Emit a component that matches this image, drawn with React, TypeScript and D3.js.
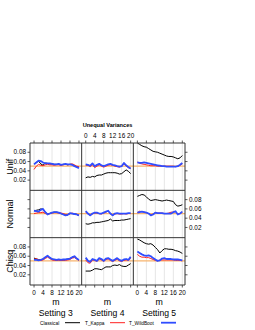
import React from "react";
import * as d3 from "d3";

const mValues = [0,1,2,3,4,5,6,7,8,9,10,11,12,13,14,15,16,17,18,19,20];
const rowNames = ["Unif", "Normal", "Chisq"];
const colNames = ["Setting 3", "Setting 4", "Setting 5"];
const seriesNames = ["Classical", "T_Kappa", "T_WildBoot"];
const xTicks = [0, 4, 8, 12, 16, 20];
const yTicks = [0.02, 0.04, 0.06, 0.08];
const yTickLabels = ["0.02", "0.04", "0.06", "0.08"];
const nominal = 0.05;

// Unif
const unifS3Classical = [0.055,0.058,0.061,0.055,0.052,0.057,0.056,0.055,0.055,0.054,0.054,0.054,0.053,0.054,0.054,0.053,0.054,0.054,0.051,0.049,0.047];
const unifS3Kappa = [0.043,0.050,0.054,0.052,0.051,0.053,0.054,0.053,0.053,0.052,0.053,0.053,0.052,0.053,0.054,0.053,0.054,0.055,0.053,0.050,0.049];
const unifS3Wild = [0.054,0.058,0.062,0.061,0.058,0.056,0.056,0.056,0.055,0.054,0.054,0.055,0.053,0.054,0.055,0.054,0.054,0.053,0.050,0.048,0.046];
const unifS4Classical = [0.025,0.027,0.026,0.028,0.027,0.030,0.031,0.031,0.033,0.035,0.036,0.036,0.036,0.036,0.035,0.033,0.034,0.038,0.042,0.039,0.034];
const unifS4Kappa = [0.052,0.052,0.049,0.053,0.047,0.050,0.053,0.050,0.048,0.050,0.052,0.053,0.052,0.050,0.049,0.048,0.050,0.055,0.050,0.047,0.045];
const unifS4Wild = [0.054,0.053,0.051,0.056,0.050,0.053,0.055,0.052,0.050,0.052,0.054,0.055,0.053,0.052,0.050,0.049,0.050,0.057,0.052,0.048,0.045];
const unifS5Classical = [0.100,0.097,0.094,0.092,0.091,0.088,0.085,0.082,0.081,0.080,0.078,0.076,0.074,0.072,0.071,0.071,0.070,0.068,0.066,0.068,0.073];
const unifS5Kappa = [0.059,0.056,0.055,0.054,0.053,0.052,0.051,0.051,0.051,0.050,0.050,0.050,0.050,0.050,0.050,0.050,0.050,0.049,0.050,0.052,0.055];
const unifS5Wild = [0.058,0.057,0.057,0.058,0.057,0.056,0.055,0.054,0.053,0.052,0.051,0.050,0.050,0.049,0.049,0.049,0.049,0.049,0.050,0.053,0.057];

// Normal
const normS3Classical = [0.056,0.057,0.058,0.060,0.059,0.053,0.049,0.050,0.052,0.053,0.053,0.052,0.050,0.048,0.047,0.047,0.050,0.050,0.049,0.048,0.046];
const normS3Kappa = [0.050,0.051,0.052,0.052,0.053,0.050,0.049,0.050,0.051,0.052,0.052,0.051,0.051,0.050,0.048,0.048,0.050,0.051,0.049,0.048,0.046];
const normS3Wild = [0.056,0.055,0.054,0.058,0.060,0.053,0.048,0.050,0.052,0.053,0.053,0.052,0.050,0.048,0.046,0.047,0.051,0.050,0.049,0.048,0.046];
const normS4Classical = [0.028,0.027,0.028,0.030,0.030,0.031,0.031,0.032,0.033,0.034,0.035,0.038,0.034,0.035,0.035,0.035,0.036,0.036,0.037,0.038,0.039];
const normS4Kappa = [0.053,0.049,0.046,0.049,0.051,0.051,0.050,0.049,0.051,0.053,0.055,0.049,0.046,0.049,0.050,0.049,0.049,0.050,0.049,0.050,0.050];
const normS4Wild = [0.055,0.050,0.046,0.050,0.052,0.052,0.050,0.050,0.052,0.054,0.056,0.050,0.046,0.050,0.051,0.050,0.050,0.050,0.050,0.051,0.051];
const normS5Classical = [0.087,0.089,0.091,0.090,0.086,0.081,0.078,0.079,0.080,0.079,0.078,0.077,0.078,0.079,0.078,0.077,0.076,0.069,0.066,0.067,0.069];
const normS5Kappa = [0.052,0.055,0.054,0.053,0.052,0.050,0.047,0.049,0.052,0.051,0.051,0.051,0.050,0.050,0.051,0.053,0.053,0.054,0.049,0.050,0.053];
const normS5Wild = [0.052,0.053,0.054,0.053,0.052,0.050,0.046,0.048,0.052,0.051,0.051,0.051,0.050,0.050,0.050,0.050,0.053,0.055,0.048,0.050,0.054];

// Chisq
const chisqS3Classical = [0.056,0.054,0.053,0.052,0.054,0.057,0.060,0.057,0.054,0.053,0.052,0.053,0.052,0.052,0.053,0.054,0.055,0.057,0.059,0.055,0.052];
const chisqS3Kappa = [0.053,0.055,0.052,0.051,0.052,0.055,0.058,0.055,0.052,0.051,0.051,0.051,0.051,0.051,0.051,0.052,0.053,0.056,0.057,0.054,0.051];
const chisqS3Wild = [0.052,0.052,0.051,0.052,0.054,0.058,0.061,0.057,0.054,0.053,0.052,0.053,0.052,0.053,0.053,0.054,0.055,0.058,0.060,0.055,0.052];
const chisqS4Classical = [0.028,0.028,0.028,0.030,0.033,0.033,0.032,0.031,0.034,0.037,0.037,0.037,0.040,0.041,0.040,0.042,0.039,0.038,0.038,0.041,0.044];
const chisqS4Kappa = [0.052,0.046,0.045,0.052,0.051,0.049,0.054,0.052,0.049,0.053,0.054,0.051,0.049,0.051,0.054,0.050,0.049,0.051,0.052,0.051,0.056];
const chisqS4Wild = [0.057,0.050,0.048,0.054,0.052,0.050,0.056,0.054,0.050,0.055,0.056,0.053,0.050,0.053,0.056,0.052,0.050,0.053,0.054,0.052,0.059];
const chisqS5Classical = [0.097,0.095,0.092,0.089,0.087,0.086,0.087,0.084,0.079,0.074,0.067,0.072,0.076,0.076,0.075,0.075,0.074,0.072,0.071,0.069,0.066];
const chisqS5Kappa = [0.064,0.060,0.058,0.058,0.057,0.057,0.055,0.053,0.051,0.050,0.052,0.052,0.052,0.052,0.052,0.052,0.052,0.051,0.051,0.051,0.050];
const chisqS5Wild = [0.070,0.067,0.064,0.062,0.061,0.062,0.060,0.056,0.053,0.050,0.051,0.055,0.056,0.054,0.054,0.054,0.053,0.053,0.053,0.052,0.051];

const panels = [
  [[unifS3Classical, unifS3Kappa, unifS3Wild], [unifS4Classical, unifS4Kappa, unifS4Wild], [unifS5Classical, unifS5Kappa, unifS5Wild]],
  [[normS3Classical, normS3Kappa, normS3Wild], [normS4Classical, normS4Kappa, normS4Wild], [normS5Classical, normS5Kappa, normS5Wild]],
  [[chisqS3Classical, chisqS3Kappa, chisqS3Wild], [chisqS4Classical, chisqS4Kappa, chisqS4Wild], [chisqS5Classical, chisqS5Kappa, chisqS5Wild]],
];

const seriesColors = ["#000000", "#ff2020", "#2f4dff"];
const seriesWidths = [1, 1, 1.8];
const FONT = "'Liberation Sans', Arial, Helvetica, sans-serif";

export default function App() {
  const left = 30, right = 185, top = 143, bottom = 285;
  const colW = (right - left) / 3;
  const rowH = (bottom - top) / 3;
  const frame = "#333333";

  const xBand = (c: number) =>
    d3.scaleLinear().domain([-1.8, 21.2]).range([left + c * colW, left + (c + 1) * colW]);
  const yBand = (r: number) =>
    d3.scaleLinear().domain([-0.002, 0.1]).range([top + (r + 1) * rowH, top + r * rowH]);

  const items: React.ReactNode[] = [];

  for (let r = 0; r < 3; r++) {
    for (let c = 0; c < 3; c++) {
      const x = xBand(c);
      const y = yBand(r);
      const x0 = left + c * colW, y0 = top + r * rowH;
      const clipId = `clip-${r}-${c}`;
      items.push(
        <g key={`p-${r}-${c}`}>
          <defs>
            <clipPath id={clipId}>
              <rect x={x0} y={y0} width={colW} height={rowH} />
            </clipPath>
          </defs>
          {xTicks.map((t) => (
            <line key={`g${t}`} x1={x(t)} x2={x(t)} y1={y0} y2={y0 + rowH} stroke="#e6e6e6" strokeWidth={1} />
          ))}
          <line x1={x0} x2={x0 + colW} y1={y(nominal)} y2={y(nominal)} stroke="#f7b46e" strokeWidth={1.3} />
          <g clipPath={`url(#${clipId})`}>
            {panels[r][c].map((vals, s) => {
              const line = d3
                .line<number>()
                .x((_, i) => x(mValues[i]))
                .y((v) => y(v));
              return (
                <path
                  key={`s${s}`}
                  d={line(vals) || ""}
                  fill="none"
                  stroke={seriesColors[s]}
                  strokeWidth={seriesWidths[s]}
                  strokeLinejoin="round"
                />
              );
            })}
          </g>
        </g>
      );
    }
  }

  const frameLines: React.ReactNode[] = [];
  for (let c = 0; c <= 3; c++) {
    const xx = left + c * colW;
    frameLines.push(<line key={`fv${c}`} x1={xx} x2={xx} y1={top} y2={bottom} stroke={frame} strokeWidth={1} />);
  }
  for (let r = 0; r <= 3; r++) {
    const yy = top + r * rowH;
    frameLines.push(<line key={`fh${r}`} x1={left} x2={right} y1={yy} y2={yy} stroke={frame} strokeWidth={1} />);
  }

  const xAxis: React.ReactNode[] = [];
  for (let c = 0; c < 3; c++) {
    const x = xBand(c);
    xTicks.forEach((t) => {
      xAxis.push(<line key={`xt${c}-${t}`} x1={x(t)} x2={x(t)} y1={top} y2={top - 2.5} stroke={frame} strokeWidth={0.8} />);
      xAxis.push(<line key={`xb${c}-${t}`} x1={x(t)} x2={x(t)} y1={bottom} y2={bottom + 2.5} stroke={frame} strokeWidth={0.8} />);
      xAxis.push(
        <text key={`xl${c}-${t}`} x={x(t)} y={c === 1 ? 138 : 295} fontSize={6.4} textAnchor="middle" fontFamily={FONT} fill="#000000">{t}</text>
      );
    });
    const cx = left + (c + 0.5) * colW;
    xAxis.push(<text key={`m${c}`} x={cx} y={305} fontSize={8.8} textAnchor="middle" fontFamily={FONT} fill="#000000">m</text>);
    xAxis.push(<text key={`st${c}`} x={cx} y={316} fontSize={8.6} textAnchor="middle" fontFamily={FONT} fill="#000000">{colNames[c]}</text>);
  }

  const yAxis: React.ReactNode[] = [];
  for (let r = 0; r < 3; r++) {
    const y = yBand(r);
    yTicks.forEach((t, i) => {
      yAxis.push(<line key={`yl${r}-${i}`} x1={left} x2={left - 2.5} y1={y(t)} y2={y(t)} stroke={frame} strokeWidth={0.8} />);
      yAxis.push(<line key={`yr${r}-${i}`} x1={right} x2={right + 2.5} y1={y(t)} y2={y(t)} stroke={frame} strokeWidth={0.8} />);
      if (r === 1) {
        yAxis.push(
          <text key={`ylt${r}-${i}`} x={right + 4} y={y(t) + 2.2} fontSize={6.4} fontFamily={FONT} fill="#000000">{yTickLabels[i]}</text>
        );
      } else {
        yAxis.push(
          <text key={`ylt${r}-${i}`} x={left - 4} y={y(t) + 2.2} fontSize={6.4} textAnchor="end" fontFamily={FONT} fill="#000000">{yTickLabels[i]}</text>
        );
      }
    });
    const cy = top + (r + 0.5) * rowH;
    yAxis.push(
      <text key={`rn${r}`} transform={`translate(12.5,${cy}) rotate(-90)`} fontSize={9} textAnchor="middle" fontFamily={FONT} fill="#000000">{rowNames[r]}</text>
    );
  }

  const legendX = [40, 85, 129];
  const legendLineX = [65, 110, 161];
  const legend = seriesNames.map((name, i) => (
    <g key={`lg${i}`}>
      <text x={legendX[i]} y={324.5} fontSize={4.8} fontFamily={FONT} fill="#000000">{name}</text>
      <line x1={legendLineX[i]} x2={legendLineX[i] + 15} y1={322.7} y2={322.7} stroke={seriesColors[i]} strokeWidth={seriesWidths[i]} />
    </g>
  ));

  return (
    <svg width={255} height={330} style={{ position: "absolute", left: 0, top: 0, background: "#fff" }}>
      <rect x={0} y={0} width={255} height={330} fill="#fff" />
      <text x={(left + right) / 2} y={127} fontSize={5.6} fontWeight="bold" textAnchor="middle" fontFamily={FONT} fill="#000000">Unequal Variances</text>
      {items}
      {frameLines}
      {xAxis}
      {yAxis}
      {legend}
    </svg>
  );
}
